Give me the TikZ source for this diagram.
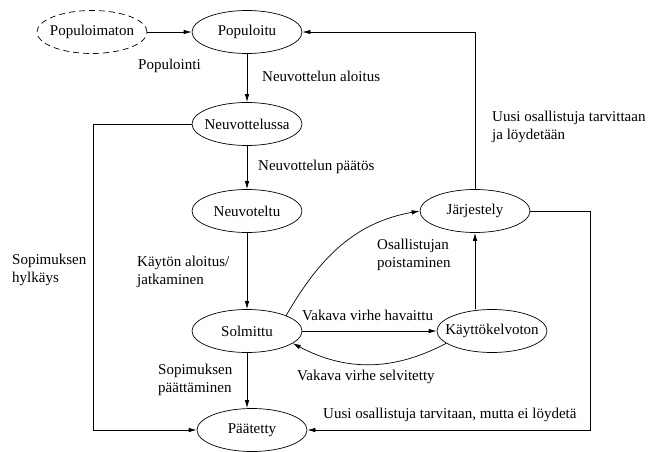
\documentclass[tikz,border=0pt]{standalone}
\usepackage{fontspec}
\setmainfont{Liberation Serif}
\usetikzlibrary{shapes.geometric,arrows.meta}

\begin{document}
\begin{tikzpicture}[x=1pt,y=-1pt,font=\fontsize{15}{18}\selectfont,
		state/.style={draw,ellipse,line width=0.7pt,minimum width=110pt,minimum height=43pt,inner xsep=-10pt,inner ysep=0pt},
		lbl/.style={anchor=west,align=left,inner sep=0pt},
		arr/.style={line width=0.7pt,-{Latex[length=8pt,width=4.5pt]}}]
			\useasboundingbox (0,0) rectangle (648,452);
			\node[state,dash pattern=on 6pt off 4pt] (populoimaton) at (92,32) {Populoimaton};
			\node[state] (populoitu) at (247,32) {Populoitu};
			\node[state] (neuvottelussa) at (247,124) {Neuvottelussa};
			\node[state] (neuvoteltu) at (247,211) {Neuvoteltu};
			\node[state] (solmittu) at (247,331) {Solmittu};
			\node[state] (paatetty) at (252,430) {Päätetty};
			\node[state] (jarjestely) at (475,211) {Järjestely};
			\node[state] (kayttokelvoton) at (492,331) {Käyttökelvoton};
			\draw[arr] (populoimaton) -- (populoitu);
			\draw[arr] (populoitu) -- (neuvottelussa);
			\draw[arr] (neuvottelussa) -- (neuvoteltu);
			\draw[arr] (neuvoteltu) -- (solmittu);
			\draw[arr] (solmittu) -- (solmittu |- paatetty.north);
			\draw[arr] (neuvottelussa.west) -- ++(-98,0) |- (paatetty.west);
			\draw[arr] (jarjestely.north) |- (populoitu.east);
			\draw[arr] (jarjestely.east) -- ++(60,0) |- (paatetty.east);
			\draw[arr] (solmittu) -- (kayttokelvoton);
			\draw[arr] (kayttokelvoton.-165) to[bend left=28] (solmittu.-15);
			\draw[arr] (kayttokelvoton.north -| jarjestely) -- (jarjestely);
			\draw[arr] (solmittu.north east) to[out=60,in=190] (jarjestely.west);
			\node[lbl] (populointi) at (138,66) {Populointi};
			\node[lbl] (aloitus) at (262,76) {Neuvottelun aloitus};
			\node[lbl] (paatos) at (258,167) {Neuvottelun päätös};
			\node[lbl] (kaytto) at (137,272) {Käytön aloitus/\\jatkaminen};
			\node[lbl] (hylkays) at (12,270) {Sopimuksen\\hylkäys};
			\node[lbl] (paattaminen) at (158,380) {Sopimuksen\\päättäminen};
			\node[lbl] (poisto) at (377,255) {Osallistujan\\poistaminen};
			\node[lbl] (loytyy) at (492,127) {Uusi osallistuja tarvittaan\\ja löydetään};
			\node[lbl] (havaittu) at (302,315) {Vakava virhe havaittu};
			\node[lbl] (selvitetty) at (297,377) {Vakava virhe selvitetty};
			\node[lbl] (eiloydy) at (323,415) {Uusi osallistuja tarvitaan, mutta ei löydetä};
	\end{tikzpicture}
\end{document}
